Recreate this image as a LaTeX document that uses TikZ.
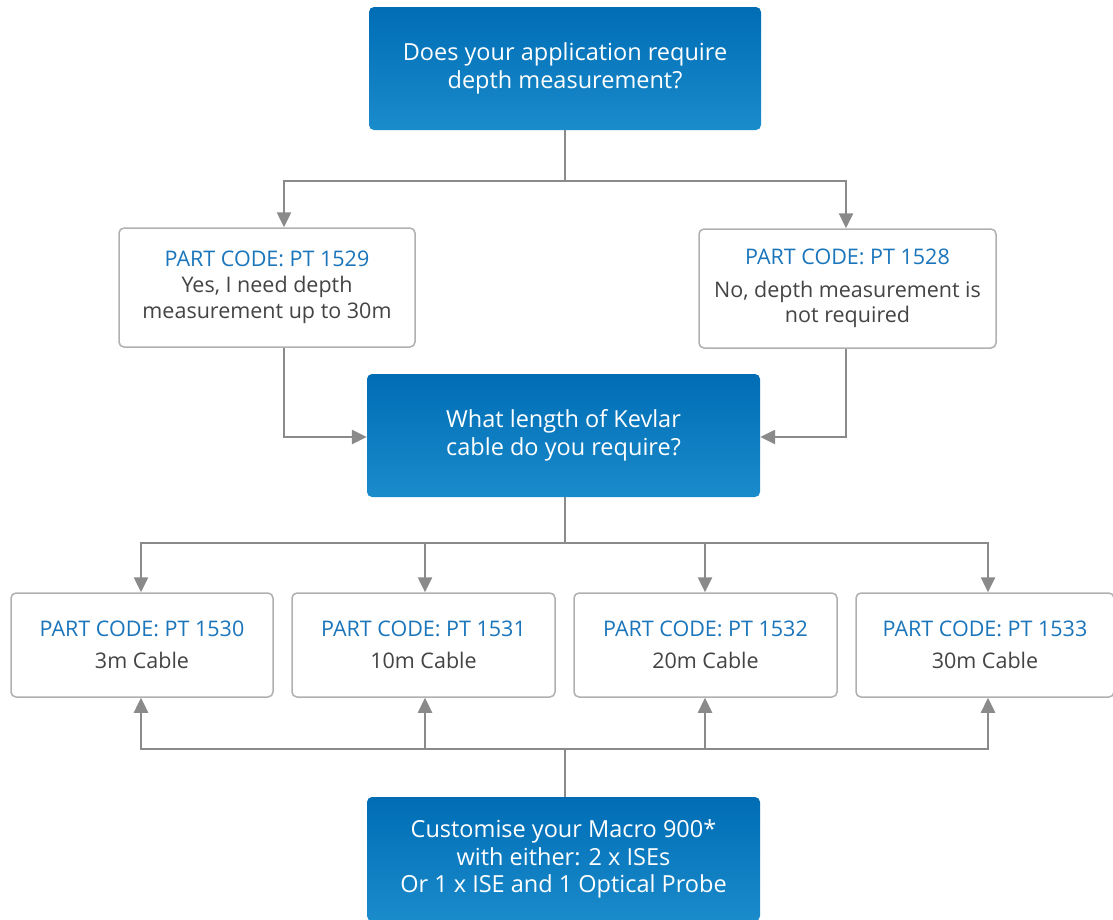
\documentclass[tikz,border=0pt]{standalone}
\usepackage{fontspec}
\setmainfont{Open Sans}
\usetikzlibrary{arrows.meta}
\definecolor{bluetop}{HTML}{006DB5}
\definecolor{bluebot}{HTML}{1A8BCB}
\definecolor{codeblue}{HTML}{1A75BB}
\definecolor{txtgray}{HTML}{444444}
\definecolor{linegray}{HTML}{8A8A8A}
\definecolor{boxgray}{HTML}{B0B0B0}
\tikzset{
  x=1pt,y=-1pt,
  bluebox/.style={rounded corners=5pt, top color=bluetop, bottom color=bluebot, draw=none,
    text=white, align=center, font=\fontsize{23.5}{27.5}\selectfont, inner sep=0pt},
  whitebox/.style={rounded corners=5pt, draw=boxgray, line width=1.5pt, fill=white,
    text=txtgray, align=center, font=\fontsize{21.5}{26}\selectfont, inner sep=0pt},
  conn/.style={draw=linegray, line width=2.5pt},
  arr/.style={conn, -{Triangle[length=15pt,width=14pt]}},
}
\begin{document}
\begin{tikzpicture}
\useasboundingbox (0,0) rectangle (1113,919);
% boxes
\node[bluebox, minimum width=392pt, minimum height=123pt] (q1) at (565,68.5) {Does your application require\\depth measurement?};
\node[whitebox, minimum width=296pt, minimum height=119pt] (yes) at (267,287.5) {\textcolor{codeblue}{PART CODE: PT 1529}\\Yes, I need depth\\measurement up to 30m};
\node[whitebox, minimum width=297pt, minimum height=119pt] (no) at (847.5,288.5) {\textcolor{codeblue}{PART CODE: PT 1528}\\[7pt]No, depth measurement is\\[-1pt]not required};
\node[bluebox, minimum width=393pt, minimum height=123pt] (q2) at (563.5,435.5) {What length of Kevlar\\cable do you require?};
\node[whitebox, minimum width=262pt, minimum height=104pt] (c1) at (142,645) {\textcolor{codeblue}{PART CODE: PT 1530}\\[6pt]3m Cable};
\node[whitebox, minimum width=263pt, minimum height=104pt] (c2) at (423.5,645) {\textcolor{codeblue}{PART CODE: PT 1531}\\[6pt]10m Cable};
\node[whitebox, minimum width=263pt, minimum height=104pt] (c3) at (705.5,645) {\textcolor{codeblue}{PART CODE: PT 1532}\\[6pt]20m Cable};
\node[whitebox, minimum width=258pt, minimum height=104pt] (c4) at (985,645) {\textcolor{codeblue}{PART CODE: PT 1533}\\[6pt]30m Cable};
\node[bluebox, minimum width=393pt, minimum height=124pt] (q3) at (563.5,859) {Customise your Macro 900*\\with either: 2 x ISEs\\Or 1 x ISE and 1 Optical Probe};
% junction coordinates
\coordinate (j1) at (565,181);
\coordinate (j2) at (565,543);
\coordinate (j3) at (565,749);
% top split
\draw[conn] (q1.south) -- (j1);
\draw[arr] (j1) -| (yes.north -| 284,0);
\draw[arr] (j1) -| (no.north -| 846,0);
% into q2
\draw[arr] (yes.south -| 284,0) |- (q2.west |- 0,437);
\draw[arr] (no.south -| 846,0) |- (q2.east |- 0,437);
% middle split
\draw[conn] (q2.south -| 565,0) -- (j2);
\draw[arr] (j2) -| (c1.north -| 141,0);
\draw[arr] (j2) -| (c2.north -| 425,0);
\draw[arr] (j2) -| (c3.north -| 705,0);
\draw[arr] (j2) -| (c4.north -| 988,0);
% bottom merge
\draw[conn] (q3.north -| 565,0) -- (j3);
\draw[arr] (j3) -| (c1.south -| 141,0);
\draw[arr] (j3) -| (c2.south -| 425,0);
\draw[arr] (j3) -| (c3.south -| 705,0);
\draw[arr] (j3) -| (c4.south -| 988,0);
\end{tikzpicture}
\end{document}
